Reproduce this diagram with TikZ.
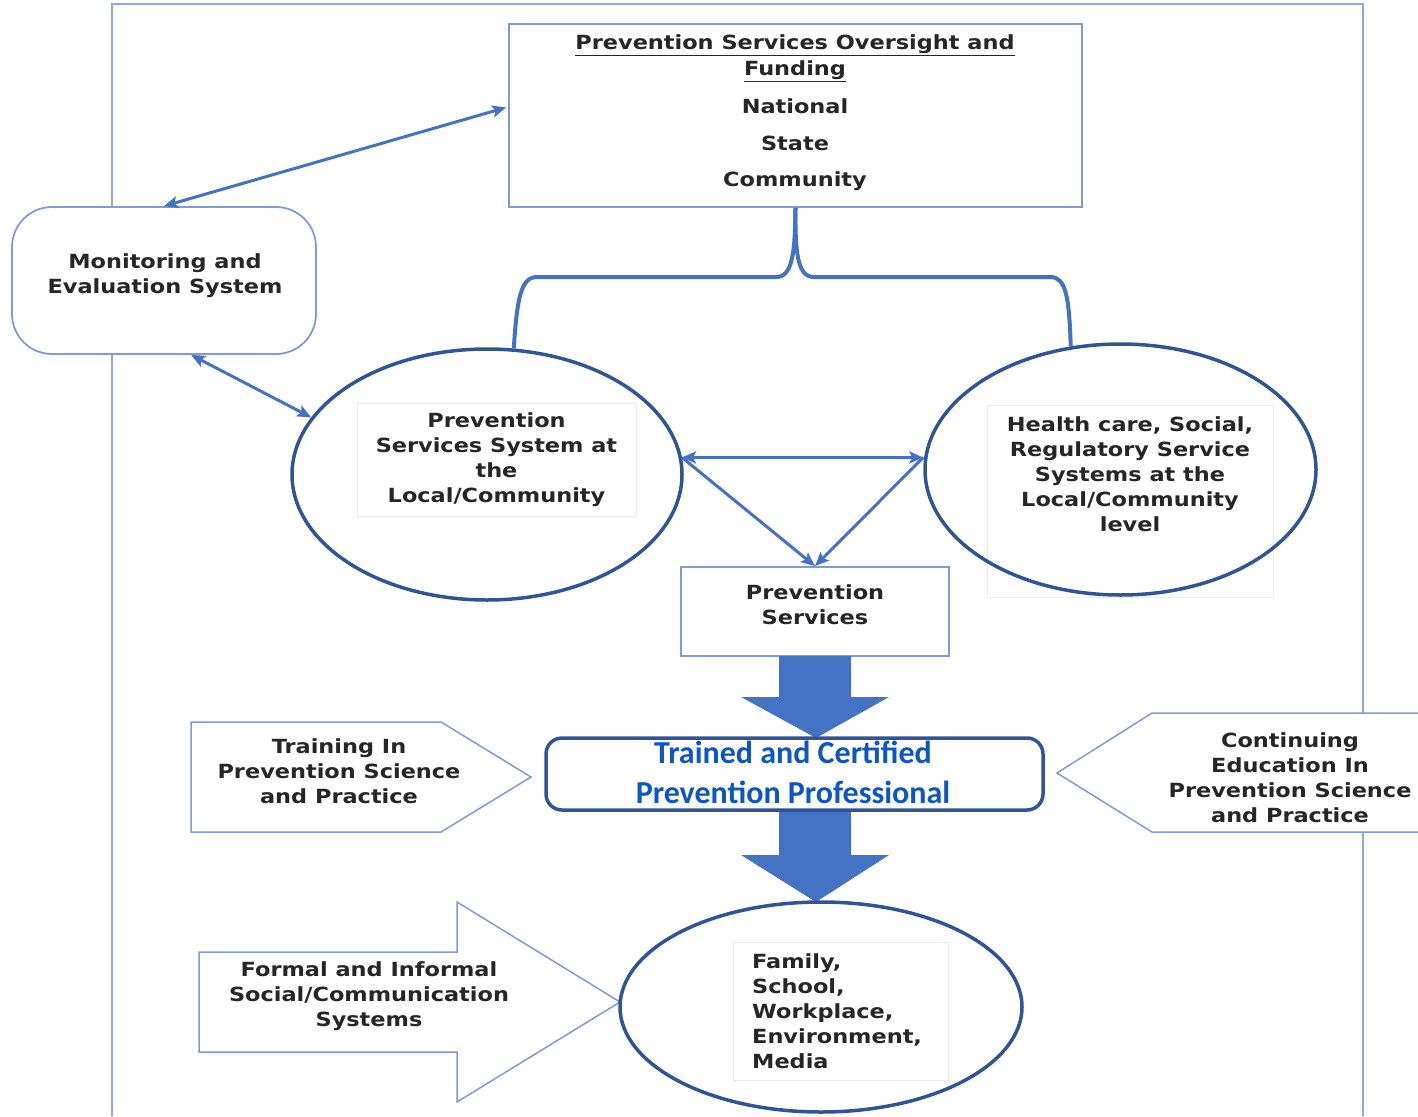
\documentclass[tikz,border=0pt]{standalone}
\usepackage{fontspec}
\newfontfamily\lblfont{DejaVu Sans}[FakeStretch=1.15]
\newfontfamily\headfont{Carlito}
\usetikzlibrary{arrows.meta,shapes.geometric,calc}

\definecolor{linkblue}{HTML}{4472C4}
\definecolor{ringblue}{HTML}{2F5597}
\definecolor{edgeblue}{HTML}{7F9BD3}
\definecolor{framecol}{HTML}{8FAADC}
\definecolor{inkgray}{HTML}{262626}
\definecolor{titleblue}{HTML}{0C56C6}

\tikzset{
  lbl/.style={font=\lblfont\bfseries\fontsize{19.5}{25}\selectfont, text=inkgray, align=center, inner sep=0pt},
  boxline/.style={draw=edgeblue, line width=1.8pt, fill=white},
  ring/.style={ellipse, draw=ringblue, line width=3.5pt, inner sep=0pt},
  faintbox/.style={draw=black!8, line width=0.8pt, fill=white, inner sep=0pt},
  link/.style={draw=linkblue, line width=3pt, >={Stealth[length=14pt, width=12pt, inset=3pt]}, ->},
  dlink/.style={draw=linkblue, line width=3pt, >={Stealth[length=14pt, width=12pt, inset=3pt]}, <->},
  brace/.style={draw=linkblue, line width=4pt},
  callout/.style={draw=edgeblue, line width=1.5pt, fill=white, line join=miter},
}

\begin{document}
\begin{tikzpicture}[x=1pt, y=-1pt]
\useasboundingbox (0,0) rectangle (1418,1116);

% outer frame
\draw[draw=framecol, line width=2pt] (112,1116) -- (112,4) -- (1363,4) -- (1363,1116);

% oversight and funding box
\node[boxline, minimum width=573pt, minimum height=183pt, inner sep=0pt] (top) at (795.5,115.5) {};
\node[lbl] (toptitle) at (795,58) {\underline{Prevention Services Oversight and}\\[1pt]\underline{Funding}};
\node[lbl] (national) at (795,106) {National};
\node[lbl] (state) at (795,143) {State};
\node[lbl] (community) at (795,181) {Community};

% monitoring box
\node[boxline, rounded corners=40pt, minimum width=304pt, minimum height=147pt] (mon) at (164,280.5) {};
\node[lbl] (montext) at (165,276) {Monitoring and\\Evaluation System};

% local systems ellipses (text panels first, outlines on top)
\node[faintbox, minimum width=279pt, minimum height=113pt] (lebox) at (496.5,459.5) {};
\node[lbl] (letext) at (496.5,460) {Prevention\\Services System at\\the\\Local/Community};
\node[ring, minimum width=390pt, minimum height=251pt] (le) at (487,474.5) {};

\node[faintbox, minimum width=286pt, minimum height=192pt] (rebox) at (1130,501) {};
\node[lbl] (retext) at (1130,474) {Health care, Social,\\Regulatory Service\\Systems at the\\Local/Community\\level};
\node[ring, minimum width=391pt, minimum height=251pt] (re) at (1120.5,469.5) {};

% brace from oversight to both systems
\draw[brace] (top.south) .. controls (795,255) and (792,277) .. (776,277) -- (537,277)
  .. controls (521,277) and (517,298) .. (le.78);
\draw[brace] (top.south) .. controls (795,255) and (798,277) .. (814,277) -- (1050,277)
  .. controls (1066,277) and (1069,296) .. (re.112);

% prevention services
\node[boxline, minimum width=268pt, minimum height=89pt] (ps) at (815,611.5) {};
\node[lbl] (pstext) at (815,604.5) {Prevention\\Services};

% connectors
\coordinate (lpt) at (le.5);
\coordinate (rpt) at (lpt -| re.west);
\draw[dlink] ($(top.west)+(-2,-8)$) -- (mon.north);
\draw[dlink] (mon.-70) -- (le.162);
\draw[dlink] (lpt) -- (rpt);
\draw[link] (lpt) -- (ps.north);
\draw[link] (rpt) -- (ps.north);

% block arrows
\fill[linkblue] (779,656) -- (851,656) -- (851,697) -- (889,697) -- (816,738) -- (741,697) -- (779,697) -- cycle;
\fill[linkblue] (779,808) -- (851,808) -- (851,855) -- (889,855) -- (816,902) -- (741,855) -- (779,855) -- cycle;

% trained and certified professional
\node[draw=ringblue, line width=3.5pt, fill=white, rounded corners=16pt, minimum width=497pt, minimum height=72pt] (tcp) at (794.5,774) {};
\node[font=\headfont\bfseries\fontsize{32}{40}\selectfont, text=titleblue, align=center, inner sep=0pt] (tcptext) at (793,772) {Trained and Certified\\Prevention Professional};

% training callout
\draw[callout] (191,722) -- (441,722) -- (531,777) -- (441,832) -- (191,832) -- cycle;
\node[lbl] (train) at (339,771) {Training In\\Prevention Science\\and Practice};

% continuing education callout
\fill[white] (1418,713) -- (1152,713) -- (1057,773) -- (1152,832) -- (1418,832) -- cycle;
\draw[callout] (1418,713) -- (1152,713) -- (1057,773) -- (1152,832) -- (1418,832);
\node[lbl] (cont) at (1290,778) {Continuing\\Education In\\Prevention Science\\and Practice};

% formal and informal systems arrow
\draw[callout] (199,952) -- (457,952) -- (457,902) -- (620,1002) -- (457,1102) -- (457,1052) -- (199,1052) -- cycle;
\node[lbl] (formal) at (369,996) {Formal and Informal\\Social/Communication\\Systems};

% family and community settings
\node[ring, fill=white, minimum width=402pt, minimum height=210pt] (fam) at (821,1007) {};
\node[faintbox, minimum width=215pt, minimum height=138pt] (fambox) at (840.5,1011) {};
\node[lbl, align=left, anchor=west] (famtext) at (752,1011) {Family,\\School,\\Workplace,\\Environment,\\Media};
\end{tikzpicture}
\end{document}
